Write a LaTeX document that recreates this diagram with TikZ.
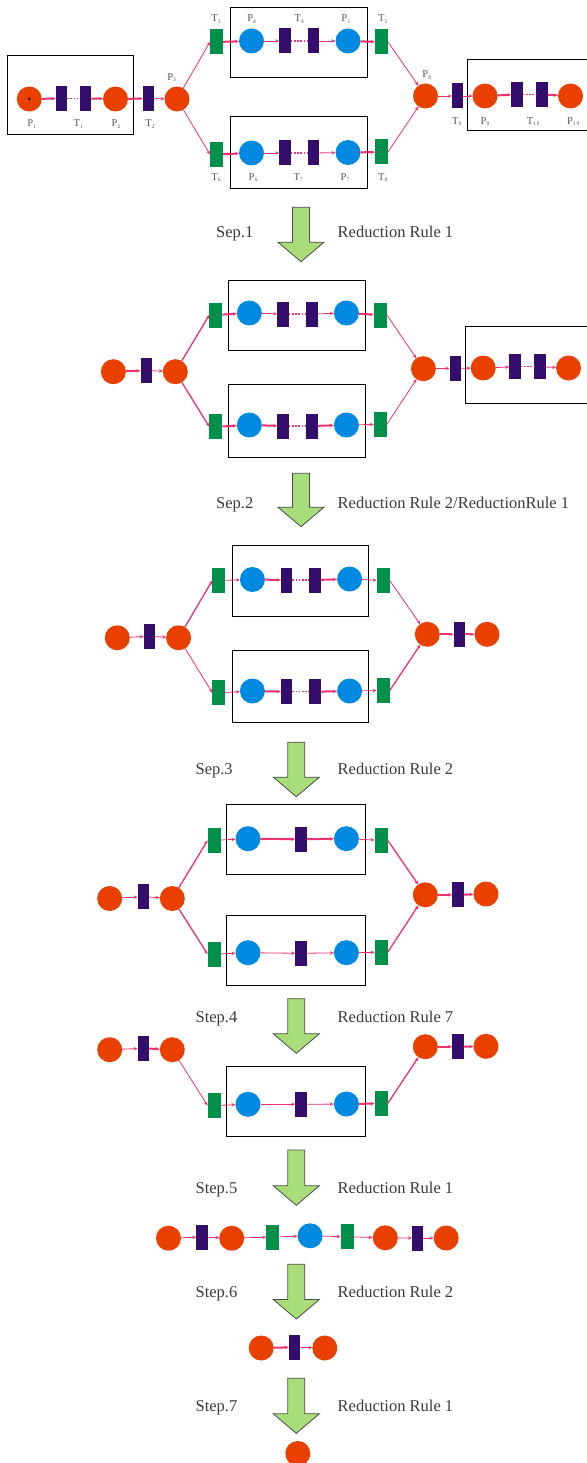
\documentclass[tikz,border=0pt]{standalone}
\usepackage{fontspec}
\setmainfont{Liberation Serif}
\usetikzlibrary{arrows.meta}

\definecolor{placered}{HTML}{E94000}
\definecolor{placeblue}{HTML}{0089E0}
\definecolor{transpurple}{HTML}{330E6C}
\definecolor{transgreen}{HTML}{00904A}
\definecolor{arcpink}{HTML}{F0306F}
\definecolor{arrowgreen}{HTML}{A9DD7A}
\definecolor{arrowedge}{HTML}{4A4A4A}
\definecolor{textgray}{HTML}{3A3A3A}
\definecolor{labgray}{HTML}{555555}

% subscript of the small place/transition labels
\newcommand\sub[1]{\raisebox{-1.3pt}{\fontsize{5.5}{6}\selectfont #1}}
% big down arrow between the reduction stages: x, top y, tip y
\newcommand\flowarrow[3]{%
  \draw[bigarrow] (#1-8.5,#2) -- (#1+8.5,#2) -- (#1+8.5,#3-19.5) -- (#1+23,#3-19.5)
    -- (#1,#3) -- (#1-23,#3-19.5) -- (#1-8.5,#3-19.5) -- cycle;}
% step caption and rule caption of one stage
\newcommand\stagelabels[6]{%
  \node[biglabel, anchor=base west] (#1) at (#3,#5+5.5) {#4};
  \node[biglabel, anchor=base west] (#2) at (337.5,#5+5.5) {#6};}

\begin{document}
\begin{tikzpicture}[x=1pt,y=-1pt,
  pl/.style={circle, fill=placered, minimum size=25pt, inner sep=0pt, outer sep=0pt},
  pb/.style={pl, fill=placeblue},
  tp/.style={rectangle, fill=transpurple, minimum width=11.5pt, minimum height=25pt, inner sep=0pt, outer sep=0pt},
  tg/.style={tp, fill=transgreen, minimum width=13pt},
  arcthin/.style={draw=arcpink, line width=0.8pt, -{Stealth[length=4pt,width=3.4pt]}},
  arcmid/.style={arcthin, line width=1.3pt},
  arcthick/.style={arcthin, line width=2pt},
  gap/.style={draw=arcpink, line width=1.3pt, dash pattern=on 1.6pt off 1.6pt},
  netbox/.style={draw=black, line width=0.9pt},
  lab/.style={text=labgray, font=\fontsize{10.5}{12}\selectfont, inner sep=0pt},
  biglabel/.style={text=textgray, font=\fontsize{16.5}{19}\selectfont, inner sep=0pt},
  bigarrow/.style={fill=arrowgreen, draw=arrowedge, line width=0.8pt}]
\useasboundingbox (0,0) rectangle (586,1463);

%% ---------------- original net ----------------
\draw[netbox] (7,55) rectangle (133,134);
\draw[netbox] (230,7) rectangle (367,77);
\draw[netbox] (230,116) rectangle (367,188);
\draw[netbox] (467,59) rectangle (600,130);

\node[pl] (P1) at (29.3,99) {};
\node[circle, fill=black, inner sep=0pt, minimum size=2.6pt] (tok) at (29.3,99) {};
\node[tp] (T1a) at (61.5,98.5) {};
\node[tp] (T1b) at (85.5,98.5) {};
\node[pl] (P2) at (115.5,99) {};
\node[tp] (T2) at (148.5,98.5) {};
\node[pl] (P3) at (177,99) {};
\node[tg] (T3) at (216.5,42) {};
\node[pb] (P4) at (251.5,41) {};
\node[tp] (T4a) at (285,41) {};
\node[tp] (T4b) at (313.5,41) {};
\node[pb] (P5) at (348,41) {};
\node[tg] (T5) at (381.5,42) {};
\node[tg] (T6) at (216.5,154.5) {};
\node[pb] (P6) at (251.5,153) {};
\node[tp] (T7a) at (285,153) {};
\node[tp] (T7b) at (313.5,153) {};
\node[pb] (P7) at (348,152.5) {};
\node[tg] (T8) at (381.5,152) {};
\node[pl] (P8) at (425.5,96) {};
\node[tp] (T9) at (457.5,96) {};
\node[pl] (P9) at (485,96) {};
\node[tp] (T10a) at (517,94.5) {};
\node[tp] (T10b) at (542,94.5) {};
\node[pl] (P10) at (570.5,96) {};

\draw[arcthick] (P1) -- (T1a);
\draw[gap] (T1a) -- (T1b);
\draw[arcthick] (T1b) -- (P2);
\draw[arcthick] (P2) -- (T2);
\draw[arcthin] (T2) -- (P3);
\draw[arcthin] (P3) -- (T3.west);
\draw[arcthin] (P3) -- (T6.west);
\draw[arcthick] (T3) -- (P4);
\draw[arcthin] (P4) -- (T4a);
\draw[gap] (T4a) -- (T4b);
\draw[arcthin] (T4b) -- (P5);
\draw[arcthick] (P5) -- (T5);
\draw[arcthin] (T5.east) -- (P8);
\draw[arcthick] (T6) -- (P6);
\draw[arcthin] (P6) -- (T7a);
\draw[gap] (T7a) -- (T7b);
\draw[arcthin] (T7b) -- (P7);
\draw[arcthick] (P7) -- (T8);
\draw[arcthin] (T8.east) -- (P8);
\draw[arcthin] (P8) -- (T9);
\draw[arcthin] (T9) -- (P9);
\draw[arcthick] (P9) -- (T10a);
\draw[gap] (T10a) -- (T10b);
\draw[arcthick] (T10b) -- (P10);

\node[lab] (lP1) at (31.7,124) {P\sub{1}};
\node[lab] (lT1) at (78.3,124) {T\sub{1}};
\node[lab] (lP2) at (116,124) {P\sub{2}};
\node[lab] (lT2) at (150,124) {T\sub{2}};
\node[lab] (lP3) at (171.7,77.3) {P\sub{3}};
\node[lab] (lT3) at (216,19) {T\sub{3}};
\node[lab] (lP4) at (251.7,19) {P\sub{4}};
\node[lab] (lT4) at (299.3,19) {T\sub{4}};
\node[lab] (lP5) at (345.7,19) {P\sub{5}};
\node[lab] (lT5) at (382.7,19) {T\sub{5}};
\node[lab] (lT6) at (216,177.7) {T\sub{6}};
\node[lab] (lP6) at (253,177.7) {P\sub{6}};
\node[lab] (lT7) at (298.3,177.7) {T\sub{7}};
\node[lab] (lP7) at (345,177.7) {P\sub{7}};
\node[lab] (lT8) at (382.7,177.7) {T\sub{8}};
\node[lab] (lP8) at (426.7,75) {P\sub{8}};
\node[lab] (lT9) at (456.7,121.7) {T\sub{9}};
\node[lab] (lP9) at (485,121.7) {P\sub{9}};
\node[lab] (lT10) at (533.3,121.7) {T\sub{1\,0}};
\node[lab] (lP10) at (573.3,121.7) {P\sub{1\,0}};

%% ---------------- stage 1 ----------------
\flowarrow{301}{207.3}{261.7}
\stagelabels{s1}{r1}{216}{Sep.1}{231.5}{Reduction Rule 1}

\draw[netbox] (228,280) rectangle (365.5,350.7);
\draw[netbox] (228,384.3) rectangle (365.5,457.3);
\draw[netbox] (465,326.7) rectangle (600,403.3);

\node[pl] (Q1) at (113.4,371.7) {};
\node[tp] (U1) at (146.3,370.5) {};
\node[pl] (Q2) at (175.3,371.7) {};
\node[tg] (G1) at (215.8,315) {};
\node[pb] (B1) at (249.3,313) {};
\node[tp] (Ua) at (283,314) {};
\node[tp] (Ub) at (311.9,314) {};
\node[pb] (B2) at (346.4,313) {};
\node[tg] (G2) at (380.4,315) {};
\node[tg] (G3) at (215.8,426.8) {};
\node[pb] (B3) at (249.3,425) {};
\node[tp] (Uc) at (283,426) {};
\node[tp] (Ud) at (311.9,426) {};
\node[pb] (B4) at (346.4,425) {};
\node[tg] (G4) at (380.4,424.3) {};
\node[pl] (Q3) at (423.4,368.7) {};
\node[tp] (U2) at (455.3,368.3) {};
\node[pl] (Q4) at (483.2,368) {};
\node[tp] (Ue) at (515,366.8) {};
\node[tp] (Uf) at (540,366.8) {};
\node[pl] (Q5) at (568.5,368) {};

\draw[arcthick] (Q1) -- (U1);
\draw[arcthin] (U1) -- (Q2);
\draw[arcmid] (Q2) -- (G1.west);
\draw[arcmid] (Q2) -- (G3.west);
\draw[arcthick] (G1) -- (B1);
\draw[arcthin] (B1) -- (Ua);
\draw[gap] (Ua) -- (Ub);
\draw[arcthin] (Ub) -- (B2);
\draw[arcthick] (B2) -- (G2);
\draw[arcthin] (G2.east) -- (Q3);
\draw[arcthick] (G3) -- (B3);
\draw[arcthick] (B3) -- (Uc);
\draw[gap] (Uc) -- (Ud);
\draw[arcthick] (Ud) -- (B4);
\draw[arcthin] (B4) -- (G4);
\draw[arcthin] (G4.east) -- (Q3);
\draw[arcthin] (Q3) -- (U2);
\draw[arcthin] (U2) -- (Q4);
\draw[arcthin] (Q4) -- (Ue);
\draw[gap] (Ue) -- (Uf);
\draw[arcthin] (Uf) -- (Q5);

%% ---------------- stage 2 ----------------
\flowarrow{301}{473.3}{526.7}
\stagelabels{s2}{r2}{216}{Sep.2}{502.7}{Reduction Rule 2/ReductionRule 1}

\draw[netbox] (232.4,545.7) rectangle (368.8,616);
\draw[netbox] (232.4,650) rectangle (368.8,722.3);

\node[pl] (R1) at (117.3,637.8) {};
\node[tp] (V1) at (149.5,636.3) {};
\node[pl] (R2) at (178.6,637.8) {};
\node[tg] (H1) at (218.8,580.5) {};
\node[pb] (C1) at (252.4,579.5) {};
\node[tp] (Va) at (286.6,580) {};
\node[tp] (Vb) at (315.2,580) {};
\node[pb] (C2) at (349.6,579) {};
\node[tg] (H2) at (383.2,580.5) {};
\node[tg] (H3) at (218.8,692.8) {};
\node[pb] (C3) at (252.4,691) {};
\node[tp] (Vc) at (286.6,691.7) {};
\node[tp] (Vd) at (315.2,691.7) {};
\node[pb] (C4) at (349.6,691) {};
\node[tg] (H4) at (383.2,690.5) {};
\node[pl] (R3) at (427.3,634.3) {};
\node[tp] (V2) at (459.3,634.3) {};
\node[pl] (R4) at (487,634.3) {};

\draw[arcthin] (R1) -- (V1);
\draw[arcthin] (V1) -- (R2);
\draw[arcmid] (R2) -- (H1.west);
\draw[arcthin] (R2) -- (H3.west);
\draw[arcthin] (H1) -- (C1);
\draw[arcthick] (C1) -- (Va);
\draw[gap] (Va) -- (Vb);
\draw[arcthick] (Vb) -- (C2);
\draw[arcthin] (C2) -- (H2);
\draw[arcthin] (H2.east) -- (R3);
\draw[arcthin] (H3) -- (C3);
\draw[arcthick] (C3) -- (Vc);
\draw[gap] (Vc) -- (Vd);
\draw[arcthick] (Vd) -- (C4);
\draw[arcthin] (C4) -- (H4);
\draw[arcmid] (H4.east) -- (R3);
\draw[arcthick] (R3) -- (V2);
\draw[arcthick] (V2) -- (R4);

%% ---------------- stage 3 ----------------
\flowarrow{296.3}{742.3}{796.7}
\stagelabels{s3}{r3}{195.4}{Sep.3}{769}{Reduction Rule 2}

\draw[netbox] (226,804) rectangle (365.5,874.3);
\draw[netbox] (226,915.3) rectangle (365.5,985.7);

\node[pl] (S1) at (109.7,898.5) {};
\node[tp] (W1) at (143.3,896.7) {};
\node[pl] (S2) at (172.3,898.5) {};
\node[tg] (K1) at (214.1,840.3) {};
\node[pb] (D1) at (248,838.7) {};
\node[tp] (Wa) at (301,839.2) {};
\node[pb] (D2) at (346.4,838.7) {};
\node[tg] (K2) at (381.2,840.3) {};
\node[tg] (K3) at (214.1,954.2) {};
\node[pb] (D3) at (248,952.7) {};
\node[tp] (Wb) at (301,953.3) {};
\node[pb] (D4) at (346.4,952.7) {};
\node[tg] (K4) at (381.2,952.2) {};
\node[pl] (S3) at (425.3,894.8) {};
\node[tp] (W2) at (457.8,894.8) {};
\node[pl] (S4) at (486,894) {};

\draw[arcthin] (S1) -- (W1);
\draw[arcthin] (W1) -- (S2);
\draw[arcmid] (S2) -- (K1.west);
\draw[arcmid] (S2) -- (K3.west);
\draw[arcthin] (K1) -- (D1);
\draw[arcthick] (D1) -- (Wa);
\draw[arcthick] (Wa) -- (D2);
\draw[arcthin] (D2) -- (K2);
\draw[arcmid] (K2.east) -- (S3);
\draw[arcthin] (K3) -- (D3);
\draw[arcthin] (D3) -- (Wb);
\draw[arcthin] (Wb) -- (D4);
\draw[arcthin] (D4) -- (K4);
\draw[arcmid] (K4.east) -- (S3);
\draw[arcthick] (S3) -- (W2);
\draw[arcthick] (W2) -- (S4);

%% ---------------- stage 4 ----------------
\flowarrow{296.3}{998.7}{1053.3}
\stagelabels{s4}{r4}{195.4}{Step.4}{1016.7}{Reduction Rule 7}

\draw[netbox] (226,1066) rectangle (365.5,1136.7);

\node[pl] (E1) at (109.7,1049.7) {};
\node[tp] (X1) at (143.3,1048.3) {};
\node[pl] (E2) at (172.3,1049.7) {};
\node[tg] (L1) at (214.1,1105.5) {};
\node[pb] (F1) at (248,1104.3) {};
\node[tp] (Xa) at (301,1104.3) {};
\node[pb] (F2) at (346.4,1104) {};
\node[tg] (L2) at (381.2,1103.5) {};
\node[pl] (E3) at (425.3,1046.7) {};
\node[tp] (X2) at (457.8,1046.7) {};
\node[pl] (E4) at (486,1046.3) {};

\draw[arcthin] (E1) -- (X1);
\draw[arcthick] (X1) -- (E2);
\draw[arcthin] (E2) -- (L1.west);
\draw[arcthin] (L1) -- (F1);
\draw[arcthin] (F1) -- (Xa);
\draw[arcthin] (Xa) -- (F2);
\draw[arcthick] (F2) -- (L2);
\draw[arcmid] (L2.east) -- (E3);
\draw[arcthick] (E3) -- (X2);
\draw[arcthick] (X2) -- (E4);

%% ---------------- stage 5 ----------------
\flowarrow{296.3}{1150}{1205.3}
\stagelabels{s5}{r5}{195.4}{Step.5}{1187.7}{Reduction Rule 1}

\node[pl] (M1) at (168.5,1238.2) {};
\node[tp] (Y1) at (202,1237) {};
\node[pl] (M2) at (231.7,1238.2) {};
\node[tg] (N1) at (272.8,1237) {};
\node[pb] (F3) at (310.1,1235.8) {};
\node[tg] (N2) at (347.2,1236.7) {};
\node[pl] (M3) at (385.3,1237.8) {};
\node[tp] (Y2) at (417.6,1238) {};
\node[pl] (M4) at (446.2,1238) {};

\draw[arcthin] (M1) -- (Y1);
\draw[arcthin] (Y1) -- (M2);
\draw[arcthin] (M2) -- (N1);
\draw[arcthin] (N1) -- (F3);
\draw[arcthin] (F3) -- (N2);
\draw[arcthin] (N2) -- (M3);
\draw[arcthin] (M3) -- (Y2);
\draw[arcthin] (Y2) -- (M4);

%% ---------------- stage 6 ----------------
\flowarrow{296.3}{1264.3}{1319}
\stagelabels{s6}{r6}{195.4}{Step.6}{1292}{Reduction Rule 2}

\node[pl] (Z1) at (261.2,1348) {};
\node[tp] (Y3) at (294.6,1347.2) {};
\node[pl] (Z2) at (324.8,1348) {};
\draw[arcthick] (Z1) -- (Y3);
\draw[arcthin] (Y3) -- (Z2);

%% ---------------- stage 7 ----------------
\flowarrow{296.3}{1378.3}{1433.3}
\stagelabels{s7}{r7}{195.4}{Step.7}{1405.7}{Reduction Rule 1}

\node[pl] (Z3) at (297.8,1453.5) {};
\end{tikzpicture}
\end{document}
